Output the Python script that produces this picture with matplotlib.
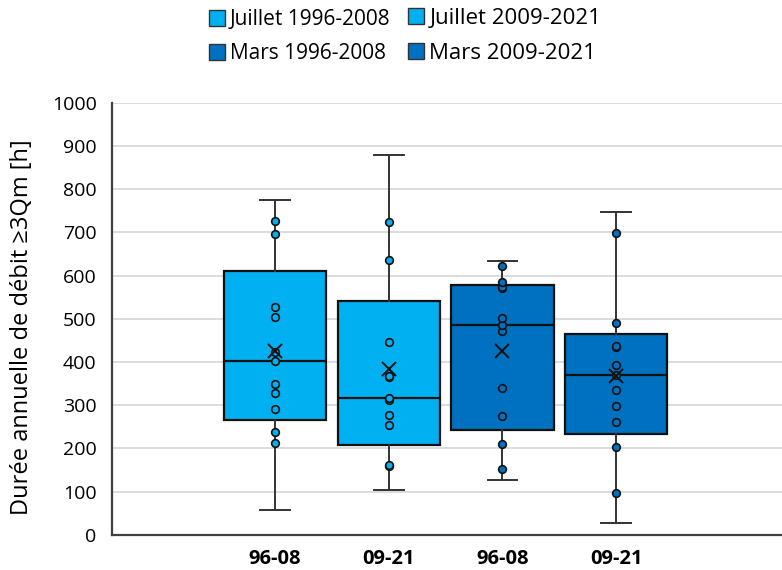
import numpy as np
import matplotlib
matplotlib.use("Agg")
import matplotlib.pyplot as plt
from matplotlib.lines import Line2D

plt.rcParams['font.family'] = ['Open Sans', 'DejaVu Sans']

# data (hours per year)
juillet_96_08 = [58, 213, 237, 292, 329, 348, 403, 422, 505, 528, 695, 727, 775]
juillet_09_21 = [104, 158, 161, 255, 278, 312, 316, 366, 368, 445, 635, 723, 878]
mars_96_08 = [127, 153, 209, 274, 339, 472, 486, 501, 570, 573, 585, 621, 633]
mars_09_21 = [26, 97, 204, 260, 297, 334, 370, 394, 434, 436, 491, 699, 748]

series = [juillet_96_08, juillet_09_21, mars_96_08, mars_09_21]
names = ["Juillet 1996-2008", "Juillet 2009-2021", "Mars 1996-2008", "Mars 2009-2021"]
tick_labels = ["96-08", "09-21", "96-08", "09-21"]
light = "#00B0F0"
dark = "#0070C0"
colors = [light, light, dark, dark]


def excel_stats(vals):
    # Excel box&whisker: exclusive quartiles, whiskers to min/max
    v = np.asarray(vals, dtype=float)
    q1, med, q3 = np.percentile(v, [25, 50, 75], method="weibull")
    return dict(med=med, q1=q1, q3=q3, whislo=v.min(), whishi=v.max(),
                mean=v.mean(), fliers=[])


fig = plt.figure(figsize=(7.82, 5.70), dpi=100)
ax = fig.add_axes([0.1432, 0.0619, 0.8568, 0.7579])

pos = np.arange(1, 5)
stats = [excel_stats(s) for s in series]
bp = ax.bxp(stats, positions=pos, widths=0.9, patch_artist=True, showmeans=False,
            boxprops=dict(linewidth=1.6, edgecolor="#111111"),
            medianprops=dict(color="#111111", linewidth=1.6),
            whiskerprops=dict(color="#333333", linewidth=1.4),
            capprops=dict(color="#333333", linewidth=1.4),
            capwidths=0.26, zorder=2)
for patch, c in zip(bp["boxes"], colors):
    patch.set_facecolor(c)

# inner points (min/max sit on the whisker ends, not drawn)
for p, s, c in zip(pos, series, colors):
    v = np.sort(np.asarray(s))
    inner = v[1:-1]
    ax.plot(np.full(len(inner), p), inner, linestyle="none", marker="o",
            markersize=5.5, markerfacecolor=c, markeredgecolor="#111111",
            markeredgewidth=1.2, zorder=4)
    ax.plot(p, np.mean(s), linestyle="none", marker="x", markersize=10,
            markeredgecolor="#111111", markeredgewidth=1.4, zorder=5)

ax.set_xlim(-0.434, 5.459)
ax.set_ylim(0, 1000)
ax.set_yticks(np.arange(0, 1001, 100))
ax.yaxis.grid(True, color="#d9d9d9", linewidth=1.3)
ax.set_axisbelow(True)
ax.set_xticks(pos)
ax.set_xticklabels(tick_labels, fontweight="bold", fontsize=14.5)
ax.tick_params(axis="both", length=0)
ax.tick_params(axis="y", labelsize=14, pad=11)
ax.tick_params(axis="x", pad=10)
for side in ["top", "right"]:
    ax.spines[side].set_visible(False)
for side in ["left", "bottom"]:
    ax.spines[side].set_color("#404040")
    ax.spines[side].set_linewidth(1.6)
ax.set_ylabel("Durée annuelle de débit ≥3Qm [h]", fontsize=17)
ax.yaxis.set_label_coords(-0.117, 0.48)

handles = [Line2D([], [], marker="s", markersize=12, markerfacecolor=c,
                  markeredgecolor="#333333", markeredgewidth=1.0, linestyle="none")
           for c in colors]
# one legend per column, like the original layout
leg_opts = dict(frameon=False, handletextpad=0.15, labelspacing=0.62,
                handlelength=0.9, borderpad=0, borderaxespad=0, loc="upper left")
leg1 = fig.legend([handles[0], handles[2]], [names[0], names[2]], fontsize=15,
                  bbox_to_anchor=(208 / 782, 1 - 9 / 570), **leg_opts)
leg2 = fig.legend([handles[1], handles[3]], [names[1], names[3]], fontsize=16,
                  bbox_to_anchor=(406 / 782, 1 - 8 / 570), **leg_opts)

fig.savefig("out.png", dpi=100)
